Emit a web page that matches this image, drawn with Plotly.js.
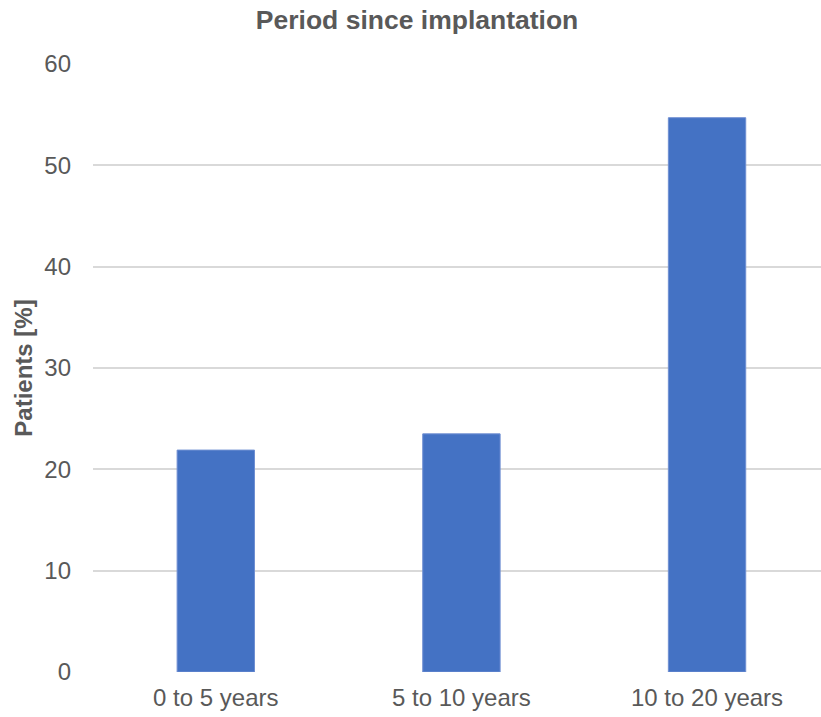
<!DOCTYPE html>
<html>
<head>
<meta charset="utf-8">
<script src="https://cdn.plot.ly/plotly-3.0.1.min.js"></script>
<style>html,body{margin:0;padding:0;background:#fff;}</style>
</head>
<body>
<div id="chart" style="width:821px;height:717px;"></div>
<script>
const categories = ["0 to 5 years", "5 to 10 years", "10 to 20 years"];
const patientsPct = [21.9, 23.5, 54.7];
const yTicks = [0, 10, 20, 30, 40, 50, 60];

const trace = {
  type: 'bar',
  x: [0, 1, 2],
  y: patientsPct,
  width: 0.315,
  marker: {color: '#4472c4', line: {color: '#6f8fd2', width: 1}},
  hoverinfo: 'skip'
};

const layout = {
  width: 821, height: 717,
  margin: {l: 93, r: 0, t: 64, b: 45, pad: 0},
  paper_bgcolor: '#ffffff', plot_bgcolor: '#ffffff',
  font: {family: 'Liberation Sans, Arial, sans-serif', color: '#595959', size: 24},
  showlegend: false,
  title: {
    text: '<b>Period since implantation</b>',
    font: {size: 26.5, color: '#595959', family: 'Liberation Sans, Arial, sans-serif'},
    xref: 'container', x: 0.508, xanchor: 'center',
    yref: 'container', y: 0.973, yanchor: 'middle'
  },
  xaxis: {
    range: [-0.5, 2.464],
    tickmode: 'array', tickvals: [0, 1, 2], ticktext: categories,
    showgrid: false, zeroline: false, showline: false,
    ticks: '', ticklen: 0,
    ticklabelstandoff: 9,
    tickfont: {size: 24, color: '#595959'},
    fixedrange: true
  },
  yaxis: {
    range: [0, 60],
    tickmode: 'array', tickvals: yTicks, ticktext: yTicks.map(String),
    showgrid: true, gridcolor: '#d9d9d9', gridwidth: 2,
    zeroline: false, showline: false, ticks: '',
    ticklabelstandoff: 21,
    tickfont: {size: 24, color: '#595959'},
    title: {text: '<b>Patients [%]</b>', font: {size: 24, color: '#595959'}, standoff: 4},
    fixedrange: true
  }
};

Plotly.newPlot('chart', [trace], layout, {displayModeBar: false, staticPlot: true});
</script>
</body>
</html>
